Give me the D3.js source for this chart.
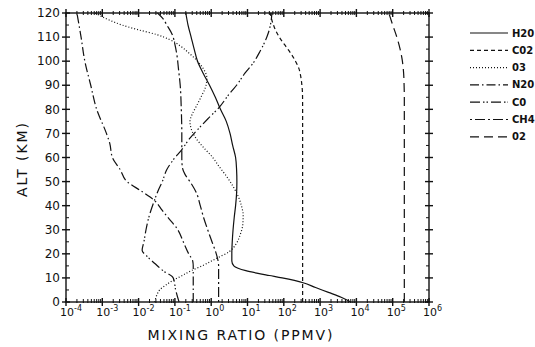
<!DOCTYPE html>
<html>
<head>
<meta charset="utf-8">
<script src="https://cdn.jsdelivr.net/npm/d3@7"></script>
<style>
  body { margin: 0; background: #fff; }
  svg { display: block; }
  text { font-family: "DejaVu Sans", sans-serif; fill: #111; }
</style>
</head>
<body>
<div id="chart"></div>
<script>
// mixing ratio profiles, [altitude km, ppmv]
const h2o = [[0,7000],[2,3800],[4,1700],[6,750],[8,340],[10,90],[11,40],[12,18],[13,9],[14,5.5],[15,4.2],[17,3.7],[20,3.7],[25,3.8],[30,4.0],[35,4.3],[40,4.7],[45,5.0],[50,5.1],[55,5.0],[60,4.7],[65,3.9],[70,3.3],[75,2.6],[80,1.8],[85,1.3],[90,0.9],[95,0.6],[100,0.42],[105,0.34],[110,0.28],[115,0.23],[120,0.2]];
const co2 = [[0,330],[40,330],[80,330],[86,328],[90,315],[94,290],[97,260],[100,210],[103,160],[106,115],[110,75],[114,55],[117,47],[120,42]];
const o3 = [[0,0.028],[3,0.032],[5,0.038],[7,0.056],[9,0.089],[11,0.16],[13,0.28],[15,0.56],[18,1.35],[21,3.2],[24,4.8],[28,6.3],[32,7.4],[36,7.6],[40,6.8],[44,5.5],[48,4.0],[52,2.7],[56,1.7],[60,1.1],[64,0.63],[68,0.38],[72,0.28],[75,0.26],[78,0.30],[81,0.38],[85,0.52],[89,0.69],[93,0.76],[97,0.6],[100,0.42],[103,0.26],[106,0.15],[109,0.071],[111,0.032],[113,0.01],[115,0.0035],[117,0.0016],[120,0.00063]];
const n2o = [[0,0.32],[5,0.32],[10,0.32],[15,0.32],[17,0.31],[20,0.24],[25,0.17],[30,0.12],[35,0.065],[38,0.045],[42,0.028],[46,0.012],[50,0.0048],[55,0.0031],[60,0.0019],[66,0.0016],[70,0.0013],[80,0.0007],[90,0.00048],[100,0.00033],[110,0.00026],[120,0.0002]];
const co = [[0,0.13],[5,0.105],[10,0.09],[13,0.047],[16,0.028],[19,0.017],[21.5,0.0125],[25,0.014],[30,0.016],[35,0.019],[42,0.027],[46,0.034],[50,0.045],[55,0.06],[59,0.09],[63,0.15],[68,0.26],[72,0.45],[76,0.8],[81,1.7],[86,3],[90,5],[95,8.5],[99,14],[104,22],[108,30],[112,38],[116,44],[120,47]];
const ch4 = [[0,1.6],[10,1.6],[15,1.6],[17,1.55],[20,1.38],[25,1.05],[30,0.8],[35,0.62],[40,0.5],[45,0.4],[50,0.26],[53,0.19],[56,0.16],[60,0.155],[70,0.155],[80,0.15],[90,0.14],[97,0.125],[102,0.115],[107,0.1],[111,0.085],[115,0.06],[118,0.045],[120,0.033]];
const o2 = [[0,209000],[45,209000],[85,209000],[90,206000],[95,200000],[100,185000],[105,160000],[110,130000],[115,100000],[120,78000]];

const gases = ["H20", "C02", "03", "N20", "C0", "CH4", "02"];
const profiles = [h2o, co2, o3, n2o, co, ch4, o2];
const dashes = ["none", "4,3", "1,2", "9,3,1.5,3", "10,3,1.5,2,1.5,3", "2,3,10,3", "9,5"];

const altTicks = d3.range(0, 121, 10);
const decades = d3.range(-4, 7);

const W = 535, H = 347;
const pLeft = 66, pRight = 429, pTop = 13, pBottom = 302;

const svg = d3.select("#chart").append("svg")
  .attr("width", W)
  .attr("height", H);

const x = d3.scaleLog().domain([1e-4, 1e6]).range([pLeft, pRight]);
const y = d3.scaleLinear().domain([0, 120]).range([pBottom, pTop]);

// frame
const axisG = svg.append("g").attr("stroke", "#111").attr("stroke-width", 1.4);
axisG.append("rect")
  .attr("x", pLeft).attr("y", pTop)
  .attr("width", pRight - pLeft).attr("height", pBottom - pTop)
  .attr("fill", "none");

// y ticks, left and right
const minorAlt = d3.range(5, 120, 10);
[pLeft, pRight].forEach(x0 => {
  axisG.selectAll(null).data(altTicks).enter().append("line")
    .attr("x1", x0 - 4).attr("x2", x0 + 4)
    .attr("y1", d => y(d)).attr("y2", d => y(d));
  axisG.selectAll(null).data(minorAlt).enter().append("line")
    .attr("stroke-width", 1)
    .attr("x1", x0 === pLeft ? x0 : x0 - 3).attr("x2", x0 === pLeft ? x0 + 3 : x0)
    .attr("y1", d => y(d)).attr("y2", d => y(d));
});

// x ticks, top and bottom
const minorX = [];
decades.slice(0, -1).forEach(e => { for (let k = 2; k < 10; k++) minorX.push(k * Math.pow(10, e)); });
[pTop, pBottom].forEach(y0 => {
  axisG.selectAll(null).data(decades).enter().append("line")
    .attr("x1", d => x(Math.pow(10, d))).attr("x2", d => x(Math.pow(10, d)))
    .attr("y1", y0 - 4).attr("y2", y0 + 4);
  axisG.selectAll(null).data(minorX).enter().append("line")
    .attr("stroke-width", 1)
    .attr("x1", d => x(d)).attr("x2", d => x(d))
    .attr("y1", y0 === pBottom ? y0 - 3 : y0 - 2).attr("y2", y0 === pBottom ? y0 + 1 : y0 + 2);
});

// y labels
svg.append("g").selectAll("text").data(altTicks).enter().append("text")
  .attr("x", pLeft - 6).attr("y", d => y(d))
  .attr("dy", "0.35em")
  .attr("text-anchor", "end")
  .attr("font-size", 12)
  .text(d => d);

// x labels 10^n
const xl = svg.append("g").selectAll("text").data(decades).enter().append("text")
  .attr("x", d => x(Math.pow(10, d)) - 6)
  .attr("y", 316)
  .attr("font-size", 11);
xl.append("tspan").text("10");
xl.append("tspan").attr("dy", -5).attr("font-size", 8).text(d => d);

// titles
svg.append("text")
  .attr("x", 240).attr("y", 340)
  .attr("text-anchor", "middle")
  .attr("font-size", 14)
  .attr("textLength", 185).attr("lengthAdjust", "spacing")
  .text("MIXING RATIO (PPMV)");

svg.append("text")
  .attr("transform", "translate(27,160) rotate(-90)")
  .attr("text-anchor", "middle")
  .attr("font-size", 14)
  .attr("textLength", 74).attr("lengthAdjust", "spacing")
  .text("ALT (KM)");

// profiles
const line = d3.line()
  .x(d => x(d[1]))
  .y(d => y(d[0]))
  .curve(d3.curveMonotoneY);

svg.append("g").selectAll("path").data(profiles).enter().append("path")
  .attr("d", line)
  .attr("fill", "none")
  .attr("stroke", "#111")
  .attr("stroke-width", 1.2)
  .attr("stroke-dasharray", (d, i) => dashes[i]);

// legend
const leg = svg.append("g").selectAll("g").data(gases).enter().append("g")
  .attr("transform", (d, i) => `translate(470,${33 + i * 17.3})`);
leg.append("line")
  .attr("x1", 0).attr("x2", 38)
  .attr("stroke", "#111").attr("stroke-width", 1.2)
  .attr("stroke-dasharray", (d, i) => dashes[i]);
leg.append("text")
  .attr("x", 42).attr("dy", "0.35em")
  .attr("font-size", 10).attr("font-weight", "bold")
  .text(d => d);
</script>
</body>
</html>
